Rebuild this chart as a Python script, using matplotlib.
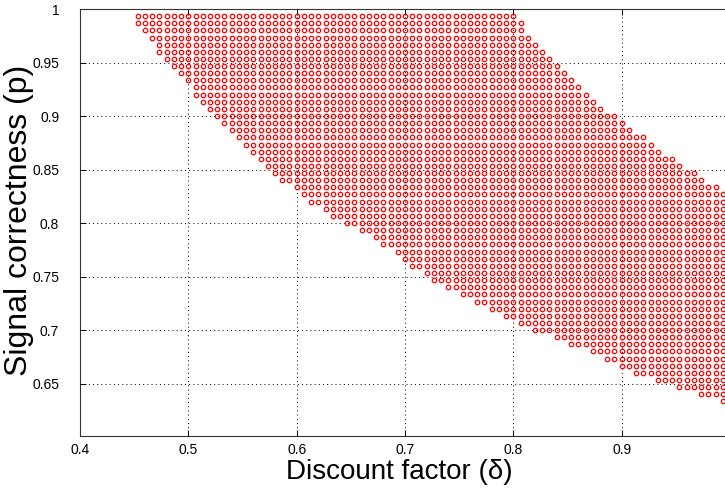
import numpy as np
import matplotlib.pyplot as plt

plt.rcParams['font.family'] = ['Liberation Sans', 'DejaVu Sans']

# grid of (delta, p) values, step 1/150 on both axes
grid_n = 150
p_rows = list(range(149, 94, -1))          # row k -> p = k / grid_n, top to bottom
# first and last delta column (j -> delta = j / grid_n) marked in each row
delta_lo = [68, 68, 69, 70, 71, 71, 72, 73, 74, 75,
            76, 76, 77, 78, 79, 80, 81, 82, 83, 84,
            85, 86, 87, 88, 90, 91, 92, 94, 95, 97,
            99, 101, 102, 104, 105, 106, 108, 109, 111, 113,
            115, 117, 119, 121, 123, 126, 128, 131, 133, 135,
            137, 140, 143, 146, 149]
delta_hi = [120, 121, 121, 122, 123, 124, 125, 126, 127, 128,
            129, 130, 131, 132, 134, 135, 136, 138, 139, 140,
            142, 143, 145, 146, 148, 149] + [150] * 29

x_ticks = [0.4, 0.5, 0.6, 0.7, 0.8, 0.9, 1.0]
x_labels = ['0.4', '0.5', '0.6', '0.7', '0.8', '0.9', '']
y_ticks = [0.65, 0.7, 0.75, 0.8, 0.85, 0.9, 0.95, 1.0]
y_labels = ['0.65', '0.7', '0.75', '0.8', '0.85', '0.9', '0.95', '1']

d_pts, p_pts = [], []
for k, lo, hi in zip(p_rows, delta_lo, delta_hi):
    for j in range(lo, hi + 1):
        d_pts.append(j / grid_n)
        p_pts.append(k / grid_n)

fig = plt.figure(figsize=(7.25, 4.93), dpi=100)
ax = fig.add_axes([80 / 725, 1 - 436 / 493, 650 / 725, 427 / 493])

ax.plot(d_pts, p_pts, 'o', mfc='none', mec='#ff0000', ms=3.2, mew=0.9)

ax.set_xlim(0.4, 1.0)
ax.set_ylim(0.601, 1.0)
ax.set_xticks(x_ticks)
ax.set_xticklabels(x_labels)
ax.set_yticks(y_ticks)
ax.set_yticklabels(y_labels)

ax.grid(True, linestyle=(0, (1, 3.3)), color='k', linewidth=0.7)
ax.tick_params(direction='in', top=True, right=True, length=4, width=0.7,
               labelsize=10)
ax.tick_params(axis='x', pad=5)
ax.tick_params(axis='y', pad=15)
for s in ax.spines.values():
    s.set_linewidth(0.8)
    s.set_color('#333333')

ax.set_xlabel('Discount factor (δ)', fontsize=20)
ax.xaxis.set_label_coords(319 / 650, -0.055)
ax.set_ylabel('Signal correctness (p)', fontsize=23)
ax.yaxis.set_label_coords(-0.07, 0.505)

fig.savefig('out.png', dpi=100)
